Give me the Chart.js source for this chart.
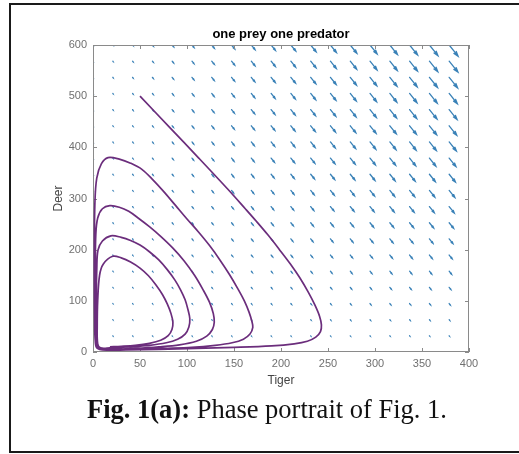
<!DOCTYPE html>
<html>
<head>
<meta charset="utf-8">
<script src="https://cdn.jsdelivr.net/npm/chart.js@4.4.0/dist/chart.umd.min.js"></script>
<style>
  html, body { margin: 0; padding: 0; background: #fff; overflow: hidden; }
  #frame { position: absolute; left: 9px; top: 3px; width: 620px; height: 446px; border: 2px solid #1a1a1a; border-right: none; }
  #wrap { position: absolute; left: 0; top: 0; width: 519px; height: 454px; }
  #caption { position: absolute; left: 87px; top: 396px; font-family: "Liberation Serif", "Times New Roman", serif; font-size: 26.5px; line-height: 26px; white-space: nowrap; color: #111; }
</style>
</head>
<body>
<div id="frame"></div>
<div id="wrap"><canvas id="phase" width="519" height="454"></canvas></div>
<div id="caption"><b>Fig. 1(a):</b> Phase portrait of Fig. 1.</div>
<script>
// trajectory, tiger (x) and deer (y)
// outer swing, then four loops spiralling in
const trajTiger = [
    50, 81, 112, 143, 162, 174, 186, 198, 210, 220, 229, 236, 241, 243, 242, 237, 228, 214, 190, 150, 110, 70, 35, 12,
    5, 2.5, 1.8, 1.5, 1.5, 2, 4, 9, 16,
    28, 40, 52, 64, 76, 88, 100, 112, 124, 135, 145, 154, 161, 166, 169, 170, 167, 160, 148, 130, 105, 75, 45, 20,
    7, 3, 2.5, 2.5, 2.5, 3, 5, 10, 18,
    28, 38, 48, 60, 72, 85, 97, 108, 117, 124, 128, 129, 127, 121, 110, 92, 70, 45, 20,
    7, 3.5, 3.5, 3.5, 4, 5.3, 10, 19,
    30, 40, 50, 60, 70, 79, 87, 93, 98, 101, 103, 102, 98, 90, 78, 60, 38, 18,
    8, 5, 4.5, 5, 7, 11, 21,
    30, 40, 50, 59, 67, 74, 79, 83, 85, 84, 80, 72, 60, 45, 30, 18
];
const trajDeer = [
    500, 440, 380, 319, 280, 255, 229, 201, 172, 145, 117, 92, 70, 53, 40, 29, 21, 16, 12, 9, 7, 5, 4, 4,
    7, 20, 60, 130, 210, 290, 340, 368, 380,
    377, 369, 357, 336, 312, 286, 260, 235, 208, 180, 152, 124, 100, 78, 60, 48, 35, 25, 18, 13, 9, 7, 5, 4,
    5, 12, 40, 100, 170, 230, 262, 280, 286,
    283, 275, 262, 245, 226, 203, 178, 150, 122, 97, 75, 58, 44, 31, 21, 14, 10, 7, 5,
    6, 14, 50, 110, 160, 199, 217, 227,
    224, 218, 209, 196, 180, 161, 141, 122, 102, 83, 65, 49, 35, 25, 18, 13, 10, 8,
    8, 16, 50, 100, 150, 172, 187,
    184, 176, 164, 149, 131, 112, 94, 75, 58, 44, 32, 23, 17, 13, 11, 10
];

// quiver grid and arrow strength read per column / row
const tigerGrid = [0, 21.1, 42.1, 63.2, 84.2, 105.3, 126.3, 147.4, 168.4, 189.5, 210.5, 231.6, 252.6, 273.7, 294.7, 315.8, 336.8, 357.9, 378.9, 400];
const deerGrid = [0, 31.6, 63.2, 94.7, 126.3, 157.9, 189.5, 221.1, 252.6, 284.2, 315.8, 347.4, 378.9, 410.5, 442.1, 473.7, 505.3, 536.8, 568.4, 600];
const flowByTiger = [0.01, 0.03, 0.06, 0.1, 0.16, 0.22, 0.28, 0.34, 0.4, 0.46, 0.52, 0.58, 0.64, 0.7, 0.76, 0.81, 0.86, 0.91, 0.95, 1.0];
const flowByDeer = [0.01, 0.03, 0.07, 0.13, 0.2, 0.27, 0.34, 0.42, 0.5, 0.57, 0.64, 0.7, 0.76, 0.81, 0.85, 0.89, 0.92, 0.95, 0.98, 1.0];
const flowMax = { tiger: 10, deer: -23 };

const xTickValues = [0, 50, 100, 150, 200, 250, 300, 350, 400];
const yTickValues = [0, 100, 200, 300, 400, 500, 600];

const points = trajTiger.map((t, i) => ({ x: t, y: trajDeer[i] }));

const quiver = {
    id: 'quiver',
    beforeDatasetsDraw(chart) {
        const { ctx, chartArea: a, scales: { x, y } } = chart;
        ctx.save();
        ctx.beginPath();
        ctx.rect(a.left, a.top, a.right - a.left, a.bottom - a.top);
        ctx.clip();
        ctx.strokeStyle = 'rgba(35, 115, 175, 0.9)';
        ctx.lineWidth = 1.3;
        ctx.lineCap = 'round';
        tigerGrid.forEach((tx, i) => {
            deerGrid.forEach((dy, j) => {
                const k = flowByTiger[i] * flowByDeer[j];
                const x0 = x.getPixelForValue(tx), y0 = y.getPixelForValue(dy);
                const x1 = x.getPixelForValue(tx + flowMax.tiger * k);
                const y1 = y.getPixelForValue(dy + flowMax.deer * k);
                const len = Math.hypot(x1 - x0, y1 - y0);
                const ang = Math.atan2(y1 - y0, x1 - x0);
                const h = len * 0.35;
                ctx.beginPath();
                ctx.moveTo(x0, y0);
                ctx.lineTo(x1, y1);
                ctx.moveTo(x1 - h * Math.cos(ang - 0.3), y1 - h * Math.sin(ang - 0.3));
                ctx.lineTo(x1, y1);
                ctx.lineTo(x1 - h * Math.cos(ang + 0.3), y1 - h * Math.sin(ang + 0.3));
                ctx.stroke();
            });
        });
        ctx.restore();
    }
};

// matlab style box with inward ticks
const axesBox = {
    id: 'axesBox',
    beforeDatasetsDraw(chart) {
        const { ctx, chartArea: a, scales: { x, y } } = chart;
        ctx.save();
        ctx.strokeStyle = '#8a8a8a';
        ctx.lineWidth = 1;
        ctx.strokeRect(a.left + 0.5, a.top + 0.5, a.right - a.left - 1, a.bottom - a.top - 1);
        ctx.beginPath();
        x.ticks.forEach(t => {
            const px = Math.round(x.getPixelForValue(t.value)) + 0.5;
            ctx.moveTo(px, a.bottom); ctx.lineTo(px, a.bottom - 4);
            ctx.moveTo(px, a.top); ctx.lineTo(px, a.top + 4);
        });
        y.ticks.forEach(t => {
            const py = Math.round(y.getPixelForValue(t.value)) + 0.5;
            ctx.moveTo(a.left, py); ctx.lineTo(a.left + 4, py);
            ctx.moveTo(a.right, py); ctx.lineTo(a.right - 4, py);
        });
        ctx.stroke();
        ctx.restore();
    }
};

const font = 'Liberation Sans, Arial, sans-serif';

new Chart(document.getElementById('phase'), {
    type: 'scatter',
    data: {
        datasets: [{
            data: points,
            showLine: true,
            borderColor: '#6b2d7c',
            borderWidth: 1.7,
            pointRadius: 0,
            tension: 0.35,
            fill: false
        }]
    },
    options: {
        responsive: false,
        animation: false,
        devicePixelRatio: 1,
        layout: { padding: { left: 0, right: 50, top: 0, bottom: 62 } },
        plugins: {
            legend: { display: false },
            tooltip: { enabled: false },
            title: {
                display: true,
                text: 'one prey one predator',
                fullSize: false,
                color: '#000',
                font: { family: font, size: 13, weight: 'bold' },
                padding: { top: 27, bottom: 2.4 }
            }
        },
        scales: {
            x: {
                type: 'linear',
                min: 0,
                max: 400,
                afterBuildTicks: s => { s.ticks = xTickValues.map(v => ({ value: v })); },
                afterFit: s => { s.height = 40; },
                grid: { display: false, drawTicks: false },
                border: { display: false },
                ticks: { color: '#707070', padding: 5, font: { family: font, size: 11 }, maxRotation: 0 },
                title: { display: true, text: 'Tiger', color: '#444', font: { family: font, size: 12 }, padding: { top: 0, bottom: 4 } }
            },
            y: {
                type: 'linear',
                min: 0,
                max: 600,
                afterBuildTicks: s => { s.ticks = yTickValues.map(v => ({ value: v })); },
                afterFit: s => { s.width = 93; },
                grid: { display: false, drawTicks: false },
                border: { display: false },
                ticks: { color: '#707070', padding: 6, font: { family: font, size: 11 } },
                title: { display: true, text: 'Deer', color: '#444', font: { family: font, size: 12 }, padding: { top: 51, bottom: 0 } }
            }
        }
    },
    plugins: [quiver, axesBox]
});
</script>
</body>
</html>
